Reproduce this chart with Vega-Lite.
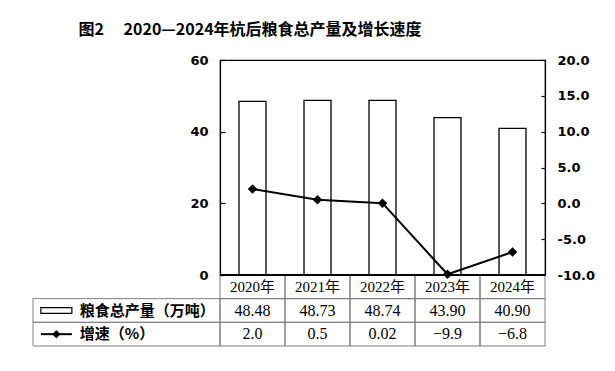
{
  "$schema": "https://vega.github.io/schema/vega-lite/v6.json",
  "autosize": {"type": "pad"},
  "padding": {"left": 32, "top": 22, "right": 5, "bottom": 5},
  "background": "white",
  "title": {
    "text": "图2　 2020—2024年杭后粮食总产量及增长速度",
    "anchor": "start",
    "dx": 46,
    "offset": 15,
    "font": "Noto Sans CJK SC",
    "fontSize": 16,
    "fontWeight": "bold",
    "color": "#000"
  },
  "datasets": {
    "main": [
      {"year": "2020年", "prod": 48.48, "rate": 2.0, "year_text": "2020年", "prod_text": "48.48", "rate_text": "2.0"},
      {"year": "2021年", "prod": 48.73, "rate": 0.5, "year_text": "2021年", "prod_text": "48.73", "rate_text": "0.5"},
      {"year": "2022年", "prod": 48.74, "rate": 0.02, "year_text": "2022年", "prod_text": "48.74", "rate_text": "0.02"},
      {"year": "2023年", "prod": 43.90, "rate": -9.9, "year_text": "2023年", "prod_text": "43.90", "rate_text": "−9.9"},
      {"year": "2024年", "prod": 40.90, "rate": -6.8, "year_text": "2024年", "prod_text": "40.90", "rate_text": "−6.8"}
    ],
    "legend": [
      {"row": "prod_text", "label": "粮食总产量（万吨）"},
      {"row": "rate_text", "label": "增速（%）"}
    ]
  },
  "columns": 2,
  "spacing": 0,
  "bounds": "flush",
  "concat": [
    {
      "width": 187,
      "height": 215,
      "data": {"values": []},
      "mark": "point",
      "view": {"stroke": null}
    },
    {
      "width": 325,
      "height": 215,
      "data": {"name": "main"},
      "view": {"stroke": "#000", "strokeWidth": 1.2},
      "encoding": {
        "x": {
          "field": "year",
          "type": "nominal",
          "sort": null,
          "axis": null,
          "scale": {"paddingInner": 0.585, "paddingOuter": 0.2925}
        }
      },
      "layer": [
        {
          "mark": {"type": "bar", "fill": "white", "stroke": "black", "strokeWidth": 1.3},
          "encoding": {
            "y": {
              "field": "prod",
              "type": "quantitative",
              "scale": {"domain": [0, 60], "nice": false},
              "axis": {
                "orient": "left",
                "values": [0, 20, 40, 60],
                "grid": false,
                "title": null,
                "tickSize": -5,
                "labelPadding": 17
              }
            }
          }
        },
        {
          "encoding": {
            "y": {
              "field": "rate",
              "type": "quantitative",
              "scale": {"domain": [-10, 20], "nice": false, "zero": false},
              "axis": {
                "orient": "right",
                "values": [-10, -5, 0, 5, 10, 15, 20],
                "grid": false,
                "title": null,
                "tickSize": -4,
                "labelPadding": 16,
                "labelExpr": "replace(format(datum.value, '.1f'), '−', '-')"
              }
            }
          },
          "layer": [
            {"mark": {"type": "line", "color": "black", "strokeWidth": 2}},
            {"mark": {"type": "point", "shape": "diamond", "filled": true, "color": "black", "opacity": 1, "size": 90}}
          ]
        }
      ],
      "resolve": {"scale": {"y": "independent"}}
    },
    {
      "width": 187,
      "height": 71,
      "data": {"name": "legend"},
      "view": {"stroke": null},
      "encoding": {
        "y": {
          "field": "row",
          "type": "nominal",
          "axis": null,
          "scale": {"domain": ["year_text", "prod_text", "rate_text"], "paddingInner": 0, "paddingOuter": 0}
        }
      },
      "layer": [
        {
          "mark": {"type": "rect", "fill": "transparent", "stroke": "#7f7f7f", "strokeWidth": 1},
          "encoding": {"x": {"value": 0}, "x2": {"value": "width"}}
        },
        {
          "mark": {"type": "text", "align": "left", "baseline": "middle", "font": "Noto Sans CJK SC", "fontSize": 15, "fontWeight": "bold", "color": "black"},
          "encoding": {
            "x": {"datum": "lab", "type": "nominal", "bandPosition": 0, "axis": null,
                  "scale": {"type": "band", "domain": ["sym", "lab"], "paddingInner": 0, "paddingOuter": 1.28, "align": 0}},
            "text": {"field": "label"}
          }
        },
        {
          "transform": [{"filter": "datum.row == 'prod_text'"}],
          "mark": {"type": "point", "shape": "M-1,-0.18H1V0.18H-1Z", "size": 961, "filled": true, "fill": "white", "stroke": "black", "strokeWidth": 1.2, "opacity": 1},
          "encoding": {"x": {"datum": "sym", "type": "nominal", "axis": null,
                  "scale": {"type": "band", "domain": ["sym", "lab"], "paddingInner": 0, "paddingOuter": 1.28, "align": 0}}}
        },
        {
          "transform": [{"filter": "datum.row == 'rate_text'"}],
          "mark": {"type": "point", "shape": "M-1,0H1", "size": 961, "filled": false, "stroke": "black", "strokeWidth": 2, "opacity": 1},
          "encoding": {"x": {"datum": "sym", "type": "nominal", "axis": null,
                  "scale": {"type": "band", "domain": ["sym", "lab"], "paddingInner": 0, "paddingOuter": 1.28, "align": 0}}}
        },
        {
          "transform": [{"filter": "datum.row == 'rate_text'"}],
          "mark": {"type": "point", "shape": "diamond", "size": 70, "filled": true, "color": "black", "opacity": 1},
          "encoding": {"x": {"datum": "sym", "type": "nominal", "axis": null,
                  "scale": {"type": "band", "domain": ["sym", "lab"], "paddingInner": 0, "paddingOuter": 1.28, "align": 0}}}
        }
      ]
    },
    {
      "width": 325,
      "height": 71,
      "data": {"name": "main"},
      "transform": [{"fold": ["year_text", "prod_text", "rate_text"], "as": ["row", "value"]}],
      "view": {"stroke": null},
      "encoding": {
        "y": {
          "field": "row",
          "type": "nominal",
          "axis": null,
          "scale": {"domain": ["year_text", "prod_text", "rate_text"], "paddingInner": 0, "paddingOuter": 0}
        }
      },
      "layer": [
        {
          "mark": {"type": "rect", "fill": "transparent", "stroke": "#7f7f7f", "strokeWidth": 1},
          "encoding": {
            "x": {"field": "year", "type": "nominal", "sort": null, "axis": null, "scale": {"paddingInner": 0, "paddingOuter": 0}}
          }
        },
        {
          "mark": {"type": "text", "font": "'Liberation Serif', 'Noto Sans CJK SC'", "color": "black", "baseline": "middle"},
          "encoding": {
            "x": {"field": "year", "type": "nominal", "sort": null, "axis": null},
            "text": {"field": "value"},
            "size": {"condition": {"test": "datum.row == 'year_text'", "value": 15}, "value": 16}
          }
        },
        {
          "transform": [{"filter": "datum.row == 'year_text'"}],
          "mark": {"type": "rule", "color": "black", "strokeWidth": 1.2},
          "encoding": {
            "y": {"field": "row", "type": "nominal", "bandPosition": 0}
          }
        }
      ]
    }
  ],
  "config": {
    "axis": {
      "labelFont": "DejaVu Sans",
      "labelFontWeight": "bold",
      "labelFontSize": 13,
      "labelColor": "black",
      "domainColor": "black",
      "domainWidth": 1.2,
      "tickColor": "black",
      "tickWidth": 1.2
    }
  }
}
